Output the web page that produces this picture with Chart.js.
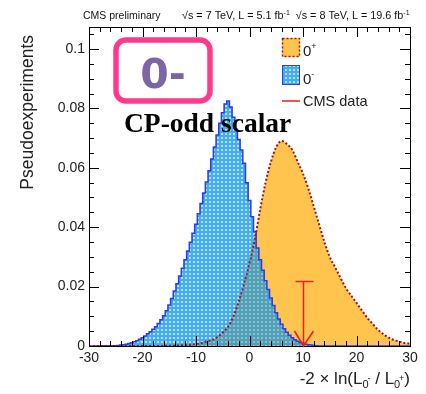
<!DOCTYPE html>
<html>
<head>
<meta charset="utf-8">
<script src="https://cdn.jsdelivr.net/npm/chart.js@4.4.0/dist/chart.umd.min.js"></script>
<style>
  html, body { margin: 0; padding: 0; background: #fff; }
</style>
</head>
<body>
<canvas id="myChart" width="426" height="394"></canvas>
<script>
// 0- hypothesis (blue), half unit bins
const oddCenters = [
  -30, -25, -24.5, -24, -23.5, -23, -22.5, -22, -21.5, -21, -20.5,
  -20, -19.5, -19, -18.5, -18, -17.5, -17, -16.5, -16, -15.5,
  -15, -14.5, -14, -13.5, -13, -12.5, -12, -11.5, -11, -10.5,
  -10, -9.5, -9, -8.5, -8, -7.5, -7, -6.5, -6, -5.5,
  -5, -4.5, -4, -3.5, -3, -2.5, -2, -1.5, -1, -0.5,
  0, 0.5, 1, 1.5, 2, 2.5, 3, 3.5, 4, 4.5,
  5, 5.5, 6, 6.5, 7, 7.5, 8, 8.5, 9, 9.5,
  10, 10.5, 11, 11.5, 12, 12.5, 13, 30]
const oddScalar = [
  0, 0.0001, 0.0002, 0.0003, 0.0004, 0.0006, 0.0008, 0.0011, 0.0014, 0.0018, 0.0023,
  0.0028, 0.0034, 0.0041, 0.0048, 0.0056, 0.0065, 0.0076, 0.0088, 0.0102, 0.0119,
  0.0138, 0.016, 0.0185, 0.021, 0.0236, 0.0262, 0.029, 0.032, 0.0349, 0.038,
  0.041, 0.0445, 0.048, 0.0515, 0.0552, 0.059, 0.063, 0.067, 0.071, 0.075,
  0.0785, 0.0815, 0.0825, 0.0805, 0.077, 0.073, 0.0695, 0.066, 0.0615, 0.055,
  0.049, 0.0435, 0.0385, 0.033, 0.029, 0.0255, 0.022, 0.019, 0.0162, 0.0136,
  0.0112, 0.0091, 0.0073, 0.0058, 0.0046, 0.0036, 0.0028, 0.0021, 0.0016, 0.0012,
  0.0009, 0.0006, 0.0004, 0.0003, 0.0002, 0.0001, 0, 0]

// 0+ hypothesis (orange)
const evenCenters = [
  -30, -29, -28, -27, -26, -25, -24, -23, -22, -21, -20, -19, -18, -17, -16, -15,
  -14, -13, -12, -11, -10, -9, -8, -7, -6, -5, -4, -3, -2, -1, 0,
  1, 2, 3, 4, 5, 6, 7, 8, 9, 10, 11, 12, 13, 14, 15,
  16, 17, 18, 19, 20, 21, 22, 23, 24, 25, 26, 27, 28, 29, 30]
const evenScalar = [
  0, 0, 0, 0, 0, 0, 0, 0, 0, 0, 0, 0, 0, 0, 0, 0.0001,
  0.0001, 0.0002, 0.0003, 0.0004, 0.0006, 0.001, 0.0015, 0.002, 0.003, 0.0045, 0.0065, 0.010, 0.015, 0.021, 0.028,
  0.036, 0.046, 0.055, 0.062, 0.067, 0.069, 0.068, 0.066, 0.062, 0.058, 0.053, 0.047, 0.041, 0.035, 0.030,
  0.0265, 0.023, 0.0195, 0.017, 0.0145, 0.012, 0.0095, 0.0075, 0.0055, 0.004, 0.0028, 0.002, 0.0015, 0.001, 0.0008]

// observed CMS value
const observed = [10]
const observedHeight = [0.0217]

const xTicks = [-30, -20, -10, 0, 10, 20, 30]
const yTicks = [0, 0.02, 0.04, 0.06, 0.08, 0.1]

const SANS = '"Liberation Sans", Arial, sans-serif'

const toPoints = (xs, vals) => xs.map((x, i) => ({ x, y: vals[i] }))

const makeHatch = () => {
  const c = document.createElement('canvas')
  c.width = 4
  c.height = 4
  const g = c.getContext('2d')
  g.fillStyle = 'rgba(25,155,238,0.82)'
  g.fillRect(0, 0, 4, 4)
  g.clearRect(1, 1, 2, 2)
  g.fillStyle = 'rgba(25,155,238,0.3)'
  g.fillRect(1, 1, 2, 2)
  return g.createPattern(c, 'repeat')
}

// draws text pieces with sub/superscripts, returns width
const drawPieces = (ctx, pieces, x, y, measureOnly) => {
  let cx = x
  let last = 0
  pieces.forEach(p => {
    ctx.font = p.font
    const w = ctx.measureText(p.t).width
    if (p.stack) {
      // superscript stacked on the previous subscript
      if (!measureOnly) ctx.fillText(p.t, cx - last + 5, y + p.dy)
      cx = Math.max(cx, cx - last + 5 + w)
      return
    }
    if (!measureOnly) ctx.fillText(p.t, cx, y + (p.dy || 0))
    cx += w
    last = w
  })
  return cx - x
}

const decor = {
  id: 'decor',
  afterDraw(chart) {
    const { ctx, chartArea: a, scales: { x, y } } = chart
    ctx.save()

    // frame and inward ticks on all sides
    ctx.strokeStyle = '#000'
    ctx.lineWidth = 1
    ctx.strokeRect(a.left + 0.5, a.top + 0.5, a.right - a.left, a.bottom - a.top)
    ctx.beginPath()
    for (let v = x.min; v <= x.max; v += 2) {
      const px = Math.round(x.getPixelForValue(v)) + 0.5
      const len = v % 10 === 0 ? 10 : 5
      ctx.moveTo(px, a.bottom); ctx.lineTo(px, a.bottom - len)
      ctx.moveTo(px, a.top); ctx.lineTo(px, a.top + len)
    }
    for (let i = 0; i * 0.005 <= y.max; i++) {
      const py = Math.round(y.getPixelForValue(i * 0.005)) + 0.5
      const len = i % 4 === 0 ? 10 : 5
      ctx.moveTo(a.left, py); ctx.lineTo(a.left + len, py)
      ctx.moveTo(a.right, py); ctx.lineTo(a.right - len, py)
    }
    ctx.stroke()

    // observed value arrow
    const ox = Math.round(x.getPixelForValue(observed[0])) + 0.5
    const oTop = y.getPixelForValue(observedHeight[0])
    const oBot = y.getPixelForValue(0)
    ctx.strokeStyle = '#ee1c1c'
    ctx.lineWidth = 1.5
    ctx.beginPath()
    ctx.moveTo(ox, oTop); ctx.lineTo(ox, oBot)
    ctx.moveTo(ox - 8, oTop); ctx.lineTo(ox + 10, oTop)
    ctx.moveTo(ox - 9, oBot - 15); ctx.lineTo(ox, oBot); ctx.lineTo(ox + 10, oBot - 15)
    ctx.stroke()

    // header
    ctx.fillStyle = '#111'
    ctx.textBaseline = 'alphabetic'
    ctx.textAlign = 'left'
    ctx.font = '10.5px ' + SANS
    ctx.fillText('CMS preliminary', 83, 19)
    const f = '10.8px ' + SANS
    const fs = '7px ' + SANS
    const hdr = [
      { t: '\u221As = 7 TeV, L = 5.1 fb', font: f },
      { t: '-1', font: fs, dy: -4 },
      { t: '  \u221As = 8 TeV, L = 19.6 fb', font: f },
      { t: '-1', font: fs, dy: -4 }
    ]
    drawPieces(ctx, hdr, 182, 19)

    // axis titles
    ctx.fillStyle = '#222'
    ctx.font = '17.5px ' + SANS
    ctx.save()
    ctx.translate(28, 0)
    ctx.rotate(-Math.PI / 2)
    ctx.textAlign = 'right'
    ctx.textBaseline = 'middle'
    ctx.fillText('Pseudoexperiments', -35, 0)
    ctx.restore()

    const big = '17px ' + SANS
    const sub = '11px ' + SANS
    const sup = '9px ' + SANS
    const xt = [
      { t: '-2 \u00D7 ln(L', font: big },
      { t: '0', font: sub, dy: 4 },
      { t: '-', font: sup, dy: -3, stack: true },
      { t: ' / L', font: big },
      { t: '0', font: sub, dy: 4 },
      { t: '+', font: sup, dy: -3, stack: true },
      { t: ')', font: big }
    ]
    const w = drawPieces(ctx, xt, 0, 0, true)
    drawPieces(ctx, xt, a.right - w, 384)

    // legend
    const lx = 282
    ctx.fillStyle = '#ffc44d'
    ctx.fillRect(lx, 38, 18, 19)
    ctx.setLineDash([2, 2])
    ctx.strokeStyle = '#a31515'
    ctx.lineWidth = 1.5
    ctx.strokeRect(lx + 0.5, 38.5, 17, 18)
    ctx.setLineDash([])
    ctx.fillStyle = '#fff'
    ctx.fillRect(lx, 65, 18, 20)
    ctx.fillStyle = makeHatch()
    ctx.fillRect(lx, 65, 18, 20)
    ctx.strokeStyle = '#2a3bf0'
    ctx.lineWidth = 1
    ctx.strokeRect(lx + 0.5, 65.5, 17, 19)
    ctx.strokeStyle = '#ee1c1c'
    ctx.lineWidth = 1.5
    ctx.beginPath()
    ctx.moveTo(lx, 101); ctx.lineTo(lx + 18, 101)
    ctx.stroke()
    ctx.fillStyle = '#222'
    drawPieces(ctx, [{ t: '0', font: '15px ' + SANS }, { t: '+', font: '9px ' + SANS, dy: -7 }], 303, 56)
    drawPieces(ctx, [{ t: '0', font: '15px ' + SANS }, { t: '-', font: '9px ' + SANS, dy: -7 }], 303, 84)
    ctx.font = '14.5px ' + SANS
    ctx.fillText('CMS data', 303, 106)

    // annotation box
    ctx.strokeStyle = '#ff3a8c'
    ctx.lineWidth = 5.5
    ctx.beginPath()
    ctx.roundRect(116, 40, 94, 61, 10)
    ctx.stroke()
    ctx.fillStyle = '#7d65a5'
    ctx.font = 'bold 41px "DejaVu Sans", sans-serif'
    ctx.textAlign = 'center'
    ctx.textBaseline = 'alphabetic'
    ctx.fillText('0-', 163, 88)
    ctx.fillStyle = '#000'
    ctx.font = 'bold 27.5px "Liberation Serif", serif'
    ctx.textAlign = 'left'
    ctx.fillText('CP-odd scalar', 124, 132)

    ctx.restore()
  }
}

const ctx = document.getElementById('myChart').getContext('2d')
new Chart(ctx, {
  type: 'line',
  data: {
    datasets: [
      {
        data: toPoints(evenCenters, evenScalar),
        borderWidth: 0,
        borderColor: 'rgba(0,0,0,0)',
        backgroundColor: '#ffc44d',
        fill: 'origin',
        cubicInterpolationMode: 'monotone',
        pointRadius: 0,
        order: 3
      },
      {
        data: toPoints(oddCenters, oddScalar),
        stepped: 'middle',
        borderColor: '#2a3bf0',
        borderWidth: 1.5,
        backgroundColor: makeHatch(),
        fill: 'origin',
        pointRadius: 0,
        order: 2
      },
      {
        data: toPoints(evenCenters, evenScalar),
        borderColor: '#a31515',
        borderWidth: 2,
        borderDash: [2, 2],
        fill: false,
        cubicInterpolationMode: 'monotone',
        pointRadius: 0,
        order: 1
      }
    ]
  },
  options: {
    responsive: false,
    devicePixelRatio: 1,
    animation: false,
    layout: { padding: { top: 27, right: 16, left: 0, bottom: 0 } },
    plugins: { legend: { display: false }, tooltip: { enabled: false } },
    scales: {
      x: {
        type: 'linear',
        min: -30,
        max: 30,
        grid: { display: false, drawTicks: false },
        border: { display: false },
        afterBuildTicks: s => { s.ticks = xTicks.map(value => ({ value })) },
        afterFit: s => { s.height = 48 },
        ticks: { padding: 4, color: '#222', font: { family: SANS, size: 14 } }
      },
      y: {
        min: 0,
        max: 0.1074,
        grid: { display: false, drawTicks: false },
        border: { display: false },
        afterBuildTicks: s => { s.ticks = yTicks.map(value => ({ value })) },
        afterFit: s => { s.width = 89 },
        ticks: {
          padding: 4,
          color: '#222',
          font: { family: SANS, size: 14 },
          callback: v => String(+v.toFixed(3))
        }
      }
    }
  },
  plugins: [decor]
})
</script>
</body>
</html>
